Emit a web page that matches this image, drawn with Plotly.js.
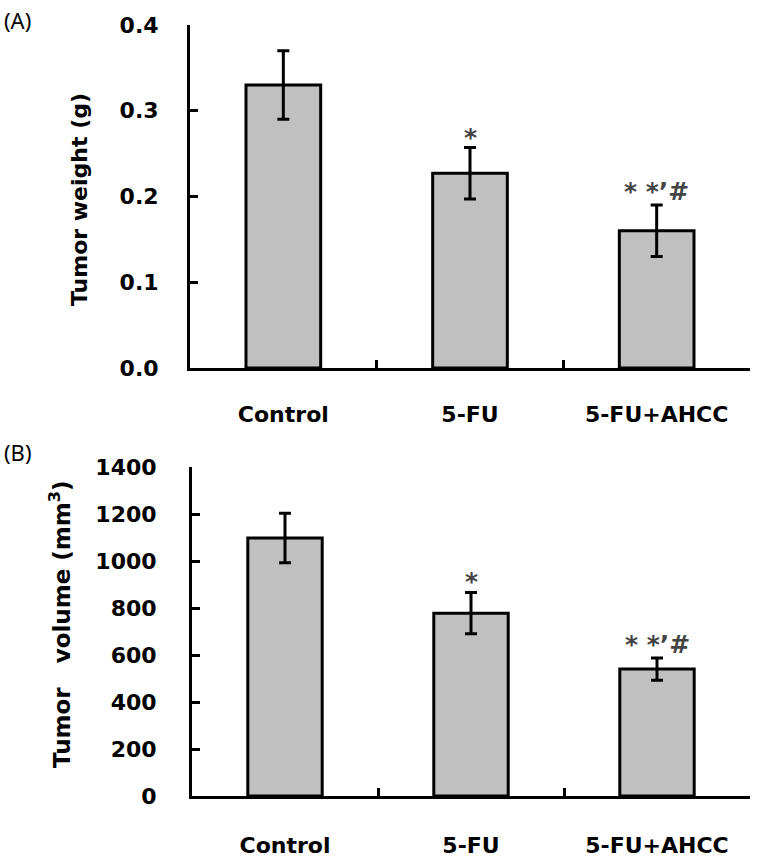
<!DOCTYPE html>
<html><head><meta charset="utf-8">
<script src="https://cdn.plot.ly/plotly-3.0.1.min.js"></script>
<style>html,body{margin:0;padding:0;background:#fff}#c{width:762px;height:863px}</style>
</head><body><div id="c"></div>
<script>
const categories = ["Control", "5-FU", "5-FU+AHCC"];
const weightMean = [0.330, 0.227, 0.160];
const weightErr = [0.040, 0.030, 0.030];
const volumeMean = [1098, 778, 540];
const volumeErr = [105, 88, 47];
const sigLabels = ["", "*", "* *’#"];
const weightTicks = [0, 0.1, 0.2, 0.3, 0.4];
const weightTickText = ["0.0", "0.1", "0.2", "0.3", "0.4"];
const volumeTicks = [0, 200, 400, 600, 800, 1000, 1200, 1400];

const W = 762, H = 863;
const px = v => v / W, py = v => 1 - v / H;
const FONT = "DejaVu Sans, Arial, sans-serif";

function barTrace(y, err, xa, ya) {
  return {
    type: "bar", x: categories, y: y, xaxis: xa, yaxis: ya,
    width: 0.4,
    marker: {color: "#c0c0c0", line: {color: "#000", width: 3}},
    error_y: {type: "data", array: err, visible: true, color: "#000", thickness: 3, width: 6},
    hoverinfo: "skip", showlegend: false
  };
}

const traces = [
  barTrace(weightMean, weightErr, "x", "y"),
  barTrace(volumeMean, volumeErr, "x2", "y2")
];

const axisCommon = {
  showline: true, linecolor: "#000", linewidth: 3,
  ticks: "inside", ticklen: 8, tickwidth: 3, tickcolor: "#000",
  showgrid: false, zeroline: false, fixedrange: true
};

const annotations = [];
categories.forEach((c, i) => {
  if (sigLabels[i]) {
    const ys = i === 2 ? -3 : -6;
    annotations.push({xref: "x", yref: "y", x: c, y: weightMean[i] + weightErr[i],
      text: "<b>" + sigLabels[i] + "</b>", showarrow: false, yanchor: "bottom", yshift: ys,
      font: {family: FONT, size: 25, color: "#444"}});
    annotations.push({xref: "x2", yref: "y2", x: c, y: volumeMean[i] + volumeErr[i],
      text: "<b>" + sigLabels[i] + "</b>", showarrow: false, yanchor: "bottom", yshift: ys,
      font: {family: FONT, size: 25, color: "#444"}});
  }
});
annotations.push(
  {xref: "paper", yref: "paper", x: px(80), y: py(200), text: "<b>Tumor weight (g)</b>",
   textangle: -90, showarrow: false, xanchor: "center", yanchor: "middle",
   font: {family: FONT, size: 22, color: "#000"}},
  {xref: "paper", yref: "paper", x: px(60), y: py(625), text: "<b>Tumor   volume (mm<sup>3</sup>)</b>",
   textangle: -90, showarrow: false, xanchor: "center", yanchor: "middle",
   font: {family: FONT, size: 23, color: "#000"}},
  {xref: "paper", yref: "paper", x: px(2), y: py(20), text: "(A)", showarrow: false,
   xanchor: "left", yanchor: "middle", font: {family: "Noto Sans, sans-serif", size: 22, color: "#000"}},
  {xref: "paper", yref: "paper", x: px(2), y: py(452), text: "(B)", showarrow: false,
   xanchor: "left", yanchor: "middle", font: {family: "Noto Sans, sans-serif", size: 22, color: "#000"}}
);

const layout = {
  width: W, height: H,
  margin: {l: 0, r: 0, t: 0, b: 0},
  paper_bgcolor: "#fff", plot_bgcolor: "#fff",
  font: {family: FONT, color: "#000"},
  bargap: 0.6,
  xaxis: Object.assign({}, axisCommon, {
    domain: [px(190), px(750)], anchor: "y", type: "category", range: [-0.5, 2.5],
    tickson: "boundaries", ticklabelstandoff: 25,
    tickfont: {family: FONT, size: 22, color: "#000", weight: "bold"}
  }),
  yaxis: Object.assign({}, axisCommon, {
    domain: [py(368), py(25)], anchor: "x", range: [0, 0.4],
    tickvals: weightTicks, ticktext: weightTickText, ticklabelstandoff: 24,
    tickfont: {family: FONT, size: 22, color: "#000", weight: "bold"}
  }),
  xaxis2: Object.assign({}, axisCommon, {
    domain: [px(192), px(750)], anchor: "y2", type: "category", range: [-0.5, 2.5],
    tickson: "boundaries", ticklabelstandoff: 28,
    tickfont: {family: FONT, size: 22, color: "#000", weight: "bold"}
  }),
  yaxis2: Object.assign({}, axisCommon, {
    domain: [py(796), py(467)], anchor: "x2", range: [0, 1400],
    tickvals: volumeTicks, ticklabelstandoff: 28,
    tickfont: {family: FONT, size: 22, color: "#000", weight: "bold"}
  }),
  annotations: annotations
};

Plotly.newPlot("c", traces, layout, {displayModeBar: false, staticPlot: true});
</script></body></html>
